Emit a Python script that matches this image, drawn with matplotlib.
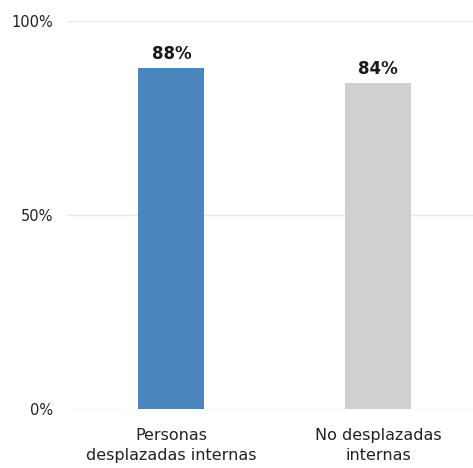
import matplotlib
matplotlib.use("Agg")
import matplotlib.pyplot as plt

categories = ["Personas\ndesplazadas internas", "No desplazadas\ninternas"]
values = [88, 84]
colors = ["#4a85bd", "#d0d0d0"]
yticks = [0, 50, 100]
ytick_labels = ["0%", "50%", "100%"]

plt.rcParams['font.family'] = ['DejaVu Sans']

fig = plt.figure(figsize=(4.73, 4.68), dpi=100)
ax = fig.add_axes([0.144, 0.126, 0.856, 0.829])

x = list(range(len(categories)))
ax.bar(x, values, width=0.32, color=colors, zorder=3)
for xi, v in zip(x, values):
    ax.text(xi, v + 1.3, f"{v}%", ha="center", va="bottom", fontsize=12,
            fontweight="bold", color="#1a1a1a")

ax.set_ylim(0, 100)
ax.set_xlim(-0.5, 1.46)
ax.set_yticks(yticks)
ax.set_yticklabels(ytick_labels, fontsize=10.5, color="#222222")
ax.yaxis.grid(True, color="#e8e8e8", linewidth=1, zorder=0)
ax.set_xticks(x)
ax.set_xticklabels(categories, fontsize=11.5, color="#222222", linespacing=1.35)
ax.tick_params(axis="both", length=0)
ax.tick_params(axis="y", pad=11)
ax.tick_params(axis="x", pad=14)
for s in ax.spines.values():
    s.set_visible(False)

fig.savefig("out.png", dpi=100, facecolor="white")
